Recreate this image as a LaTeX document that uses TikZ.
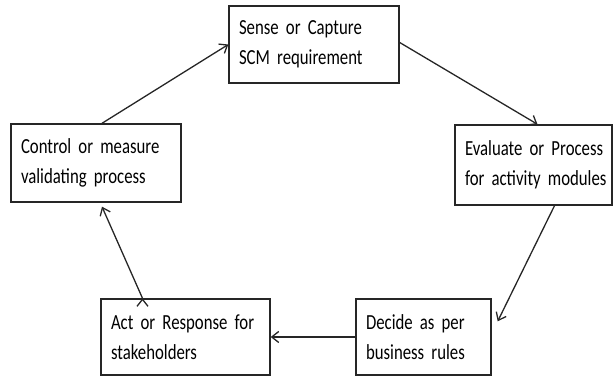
\documentclass[tikz,border=0pt]{standalone}
\usepackage{fontspec}
\setmainfont[FakeStretch=0.78]{Carlito}
\usepackage{tikz}
\usetikzlibrary{positioning,arrows.meta}
\newcommand\stagefont{\fontsize{21.5}{30}\selectfont\spaceskip 3.4pt\relax}

\begin{document}
\begin{tikzpicture}[x=1pt,y=1pt,on grid,
  >={Straight Barb[length=7pt,width=11pt]},
  stage/.style={rectangle,draw=black!85,line width=1.4pt,align=left,
    inner xsep=10pt,inner ysep=0pt,minimum height=77pt,font=\stagefont}]
  \useasboundingbox (0,0) rectangle (614,-377);
  \node[stage,text width=150pt] (sense) at (314,-44.5) {\mbox{Sense or Capture}\\\mbox{SCM requirement}};
  \node[stage,text width=137pt,minimum height=80pt] (evaluate) [below right = 120.5pt and 219.5pt of sense] {\mbox{Evaluate or Process}\\\mbox{for activity modules}};
  \node[stage,text width=115pt,minimum height=76pt] (decide) [below left = 172pt and 110pt of evaluate] {\mbox{Decide as per}\\\mbox{business rules}};
  \node[stage,text width=149pt,minimum height=76pt] (act) [left = 238pt of decide] {\mbox{Act or Response for}\\\mbox{stakeholders}};
  \node[stage,text width=150pt,minimum height=78pt] (control) [above left = 174pt and 89.5pt of act] {\mbox{Control or measure}\\\mbox{validating process}};
  \path[->,line width=1.3pt,draw=black!85]
  ([xshift=6pt]control.north) edge (sense.west)
  ([yshift=2pt]sense.east) edge ([xshift=4pt]evaluate.north)
  ([xshift=21pt]evaluate.south) edge ([shift={(6pt,-23pt)}]decide.north east)
  (decide.west) edge (act.east)
  ([xshift=-43pt]act.north) edge ([shift={(6pt,-4pt)}]control.south)
  ;
\end{tikzpicture}
\end{document}
